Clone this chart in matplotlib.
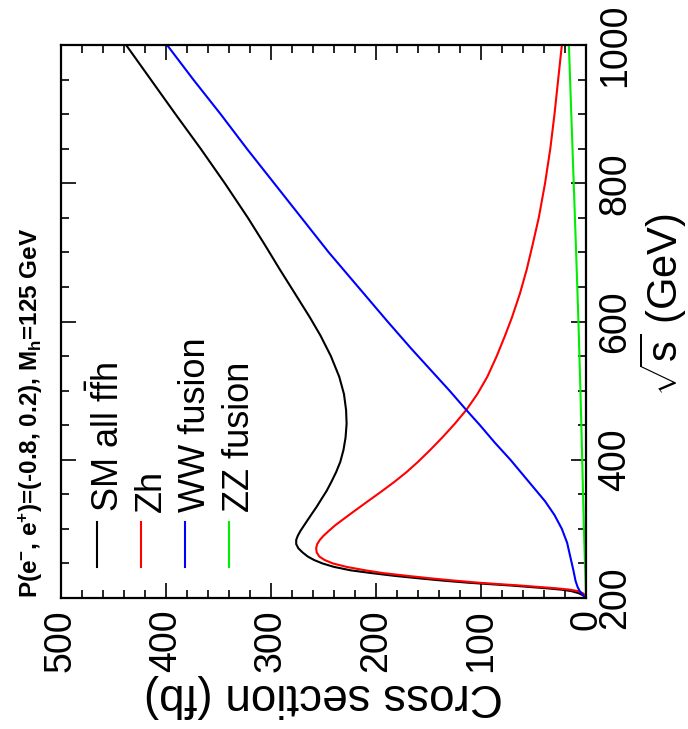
import matplotlib
matplotlib.use("Agg")
import matplotlib.pyplot as plt
from matplotlib.ticker import MultipleLocator

plt.rcParams['font.family'] = ['Liberation Sans', 'DejaVu Sans']
plt.rcParams['mathtext.fontset'] = 'custom'
plt.rcParams['mathtext.rm'] = 'Liberation Sans'
plt.rcParams['mathtext.bf'] = 'Liberation Sans:bold'
plt.rcParams['mathtext.default'] = 'regular'

# sqrt(s) in GeV, cross sections in fb
sm_sqrts = [200, 204, 207, 210, 212, 214, 216, 218, 220, 222, 225, 228, 232, 236, 240, 245,
            250, 255, 260, 266, 272, 278, 284, 290, 297, 305, 313, 322, 332, 343, 355, 368,
            382, 397, 414, 432, 452, 472, 495, 520, 550, 580, 606, 640, 675, 710, 750, 800,
            850, 900, 950, 1000]
sm_xsec = [0, 3, 7, 14, 23, 37, 54, 71, 91, 111, 135, 156, 182, 204, 224, 240,
           251, 259, 265, 270, 274, 276, 276, 274.5, 272, 268.5, 265, 261, 256.5, 252, 247, 242.5,
           238, 234, 231, 229, 228, 228.5, 230.5, 235, 243, 253, 263, 277, 291.5, 305.5, 322, 344,
           367, 391, 414.5, 438]

zh_sqrts = [200, 204, 207, 210, 212, 214, 216, 218, 220, 222, 225, 228, 232, 236, 240, 245,
            250, 255, 260, 266, 272, 278, 284, 290, 297, 305, 313, 322, 332, 343, 355, 368,
            382, 397, 414, 432, 452, 472, 495, 520, 550, 580, 606, 640, 675, 710, 750, 800,
            850, 900, 950, 1000]
zh_xsec = [0, 1, 3, 8, 15, 28, 45, 62, 82, 101, 124, 145, 170, 193, 210, 228,
           241, 249, 254, 256.5, 257, 256, 253.5, 250, 245, 239, 232, 224, 215, 205, 194, 182.5,
           171, 160, 148.5, 137, 125, 114, 103.5, 94, 85, 77, 70.5, 63, 56.5, 51, 45, 39,
           34, 30, 26.5, 23]

ww_sqrts = [200, 203, 206, 210, 216, 225, 240, 260, 280, 300, 320, 340, 360, 380, 400, 425,
            450, 472, 500, 530, 560, 600, 650, 700, 750, 800, 850, 900, 950, 1000]
ww_xsec = [0, 2, 4, 6, 8, 10, 12, 15, 18, 23, 30, 39, 50, 61, 72, 87,
           101, 114, 130, 148, 166, 189, 217, 245, 271, 297, 323, 348, 374, 399]

zz_sqrts = [200, 230, 260, 300, 350, 400, 500, 600, 700, 800, 900, 1000]
zz_xsec = [0, 0.5, 1.2, 2, 2.8, 3.6, 5.3, 7.2, 9.4, 11.7, 14, 16.3]

labels = ["SM all f$\\bar{f}$h", "Zh", "WW fusion", "ZZ fusion"]
colors = ["black", "#ff0000", "#0000ff", "#00ee00"]

fig = plt.figure(figsize=(6.88, 7.29), dpi=100)
ax = fig.add_axes([61/688, 131/729, 525/688, 553/729])

# the whole plot is turned on its side: cross section runs right to left, sqrt(s) upwards
ax.plot(sm_xsec, sm_sqrts, c=colors[0], lw=1.5)
ax.plot(zh_xsec, zh_sqrts, c=colors[1], lw=1.5)
ax.plot(ww_xsec, ww_sqrts, c=colors[2], lw=1.5)
ax.plot(zz_xsec, zz_sqrts, c=colors[3], lw=1.5)

ax.set_xlim(500, 0)
ax.set_ylim(200, 1000)
ax.xaxis.set_major_locator(MultipleLocator(100))
ax.xaxis.set_minor_locator(MultipleLocator(20))
ax.yaxis.set_major_locator(MultipleLocator(200))
ax.yaxis.set_minor_locator(MultipleLocator(50))

ax.tick_params(which="both", direction="in", top=True, bottom=True, left=True, right=True,
               labelleft=False, labelright=True, labelsize=27, width=1.2, pad=8)
ax.tick_params(which="major", length=11)
ax.tick_params(which="minor", length=6)
for lab in ax.get_xticklabels():
    lab.set_rotation(90)
for lab in ax.get_yticklabels():
    lab.set_rotation(90)
    lab.set_verticalalignment("center")
for sp in ax.spines.values():
    sp.set_linewidth(1.6)

ax.set_xlabel("Cross section (fb)", fontsize=33, rotation=180, ha="center", va="center")
ax.xaxis.set_label_coords(0.5, -0.177)
ax.yaxis.set_label_position("right")
ax.set_ylabel("$\\sqrt{s}$ (GeV)", fontsize=30, rotation=90, ha="center", va="center")
ax.yaxis.set_label_coords(1.147, 0.53)

ax.text(-0.057, 0.0, "P(e$^{-}$, e$^{+}$)=(-0.8, 0.2), M$_{h}$=125 GeV", transform=ax.transAxes,
        rotation=90, rotation_mode="anchor", ha="left", va="center",
        fontsize=17.5, fontweight="bold")

# legend drawn by hand, turned like the rest
for i in range(4):
    lx = 0.069 + i * 0.0835
    ax.plot([lx, lx], [0.056, 0.137], c=colors[i], lw=1.5, transform=ax.transAxes)
    ax.text(lx + 0.02, 0.156, labels[i], transform=ax.transAxes, rotation=90,
            rotation_mode="anchor", ha="left", va="center", fontsize=26)

fig.savefig("out.png", dpi=100)
